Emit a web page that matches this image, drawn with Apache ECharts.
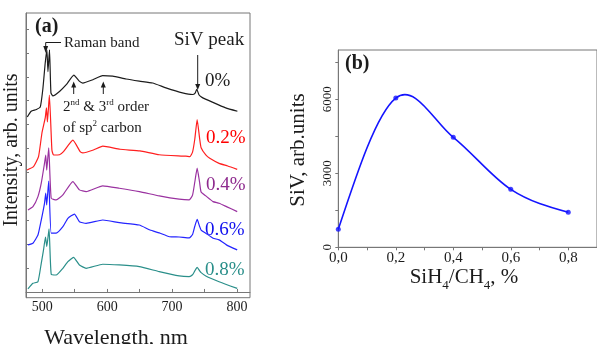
<!DOCTYPE html>
<html><head><meta charset="utf-8">
<script src="https://cdn.jsdelivr.net/npm/echarts@6/dist/echarts.min.js"></script>
<style>html,body{margin:0;padding:0;background:#fff}#c{width:597px;height:344px}</style>
</head><body><div id="c"></div>
<script>
// ---- Panel (a): Raman/PL spectra (offset intensities, arb. units) ----
const wl0 = [477,483,491,497,501,504.6,507.2,508.8,511.2,513.4,516.5,527,537,548.7,557,562.5,578,593,608.6,629,649.5,670,690.5,716,731.5,735.5,738,741.6,746,762,782.6,800.6];
const int0 = [7.32,7.56,7.63,7.74,8.5,9.58,10.13,9.22,10.13,8.33,8.2,8.40,8.67,9.07,8.82,8.74,8.88,9.05,9.03,8.91,8.82,8.74,8.54,8.33,8.26,8.32,8.48,8.24,8.14,7.94,7.70,7.56];

const wl1 = [476.5,486.6,494.3,499.5,504.6,506.5,508,511,514.9,517.4,526.6,532.7,547.2,558.4,562.5,578.8,593.2,619.8,650.5,680.2,721.2,727.3,731.5,735,738.6,742.5,744.7,751.9,758,772.4,785.7,800.3];
const int1 = [5.10,5.24,5.66,6.64,7.28,7.70,7.11,8.24,5.94,5.73,5.74,5.87,6.35,5.87,5.82,5.94,6.10,5.97,5.90,5.74,5.68,5.66,5.85,6.4,7.21,6.4,6.03,5.73,5.59,5.38,5.27,5.13];

const wl2 = [478,485.7,493.4,498.5,503.5,505.4,506.9,510,513.8,521.5,531.8,547.2,557.3,567.6,593.2,618.7,649.5,680.2,710.9,726.3,731.5,735,738.6,742.3,744.7,751.9,763.1,772.4,783.7,800.3];
const int2 = [3.43,3.57,3.99,4.55,5.38,5.73,5.10,6.03,3.92,3.85,4.06,4.62,4.27,4.20,4.44,4.34,4.20,4.02,3.88,3.85,4.05,4.6,5.18,4.6,4.18,4.02,3.78,3.71,3.57,3.36];

const wl3 = [478,485.7,493.4,498.5,503.5,505.4,506.9,510,513.8,521.5,531.8,539.5,549.7,557.3,567.6,593.2,618.7,649.5,666,680.2,696,710.9,726.3,731.5,735,738.6,742.3,744.7,751.9,763.1,772.4,783.7,800.3];
const int3 = [1.97,2.04,2.38,3.01,3.71,4.14,3.64,4.64,2.46,2.46,2.73,3.08,3.26,2.94,2.87,3.01,2.90,2.80,2.59,2.47,2.31,2.30,2.26,2.40,2.75,3.04,2.75,2.59,2.46,2.25,2.18,1.97,1.76];

const wl4 = [478,485.7,493.4,498.5,502,505,507,510.5,513.8,521.5,531.8,539.5,548.2,557.3,567.6,593.2,618.7,649.5,680.2,710.9,726.3,731.5,735,738.6,742.5,744.7,751.9,772.4,800.3];
const int4 = [0.13,0.36,0.43,1.20,1.76,2.30,1.90,2.64,0.75,0.71,0.99,1.27,1.45,1.13,0.99,1.16,1.13,1.06,0.85,0.67,0.64,0.72,0.88,1.03,0.88,0.81,0.67,0.43,0.15];

const seriesNames = ['0%','0.2%','0.4%','0.6%','0.8%'];
const wlTicks = [500,550,600,650,700,750,800];
const wlLabels = [500,600,700,800];
const intTicks = [0,1,2,3,4,5,6,7,8,9,10,11];

// ---- Panel (b): SiV intensity vs SiH4/CH4 ----
const ratio = [0, 0.2, 0.4, 0.6, 0.8];
const siv = [730, 6050, 4460, 2350, 1420];

const FONT = 'Liberation Serif';
const colors = ['#1c1c1c','#ff1f1f','#9a32a0','#2424ff','#2a8f8a'];
const labelColors = ['#1c1c1c','#ff0000','#8e2a8e','#1010ee','#2a8f8a'];

const wls = [wl0,wl1,wl2,wl3,wl4];
const ints = [int0,int1,int2,int3,int4];

const specSeries = wls.map((w,k)=>({
  type:'line', name: seriesNames[k], xAxisIndex:0, yAxisIndex:0,
  data: w.map((x,i)=>[x, ints[k][i]]),
  showSymbol:false, symbol:'none', smooth:0.15,
  lineStyle:{color:colors[k], width:1.2}, silent:true, animation:false
}));

// cubic spline tangents (natural end conditions) for the SiV curve
function splineTangents(xs, ys){
  const n = xs.length, m = new Array(n);
  for (let i=1;i<n-1;i++) m[i] = (ys[i+1]-ys[i-1])/(xs[i+1]-xs[i-1]);
  const s0 = (ys[1]-ys[0])/(xs[1]-xs[0]);
  const sn = (ys[n-1]-ys[n-2])/(xs[n-1]-xs[n-2]);
  m[0] = (3*s0 - m[1])/2;
  m[n-1] = (3*sn - m[n-2])/2;
  return m;
}
const sivTan = splineTangents(ratio, siv);

function txt(x,y,t,opt){
  return Object.assign({type:'text', x:x, y:y, silent:true,
    style:Object.assign({text:t, font:'15px "Liberation Serif"', fill:'#1c1c1c', textVerticalAlign:'middle'}, opt||{})});
}
function arrowDown(x,y1,y2){
  return [
    {type:'line', silent:true, shape:{x1:x,y1:y1,x2:x,y2:y2-5}, style:{stroke:'#1c1c1c', lineWidth:1}},
    {type:'polygon', silent:true, shape:{points:[[x-2.5,y2-6],[x+2.5,y2-6],[x,y2]]}, style:{fill:'#1c1c1c'}}
  ];
}
function arrowUp(x,y1,y2){
  return [
    {type:'line', silent:true, shape:{x1:x,y1:y1,x2:x,y2:y2+5}, style:{stroke:'#1c1c1c', lineWidth:1}},
    {type:'polygon', silent:true, shape:{points:[[x-2.5,y2+6],[x+2.5,y2+6],[x,y2]]}, style:{fill:'#1c1c1c'}}
  ];
}

const graphics = [
  txt(35,26.5,'(a)',{font:'bold 20px "Liberation Serif"'}),
  txt(64,42.7,'Raman band',{font:'15px "Liberation Serif"'}),
  {type:'polyline', silent:true, shape:{points:[[45.7,46],[45.7,42.5],[61,42.5]]}, style:{stroke:'#1c1c1c', lineWidth:1, fill:null}},
  {type:'polygon', silent:true, shape:{points:[[43.3,46],[48.1,46],[45.7,53]]}, style:{fill:'#1c1c1c'}},
  txt(174,40,'SiV peak',{font:'19px "Liberation Serif"'}),
  ...arrowDown(197.7,55,90),
  ...arrowUp(73.7,94,81.5),
  ...arrowUp(103.3,94,81.5),
  {type:'text', x:63, y:106.7, silent:true, style:{
    text:'2{sup|nd} & 3{sup|rd} order', textVerticalAlign:'middle',
    font:'15px "Liberation Serif"', fill:'#1c1c1c',
    rich:{sup:{fontSize:9, fontFamily:FONT, verticalAlign:'top', lineHeight:18, fill:'#1c1c1c'}}
  }},
  {type:'text', x:63, y:127.7, silent:true, style:{
    text:'of sp{sup|2} carbon', textVerticalAlign:'middle',
    font:'15px "Liberation Serif"', fill:'#1c1c1c',
    rich:{sup:{fontSize:9, fontFamily:FONT, verticalAlign:'top', lineHeight:18, fill:'#1c1c1c'}}
  }},
  txt(205,80.7,seriesNames[0],{font:'19px "Liberation Serif"', fill:labelColors[0]}),
  txt(206,138,seriesNames[1],{font:'19px "Liberation Serif"', fill:labelColors[1]}),
  txt(206,185,seriesNames[2],{font:'19px "Liberation Serif"', fill:labelColors[2]}),
  txt(205,230,seriesNames[3],{font:'19px "Liberation Serif"', fill:labelColors[3]}),
  txt(205,270,seriesNames[4],{font:'19px "Liberation Serif"', fill:labelColors[4]}),
  {type:'text', x:12, y:150, rotation:Math.PI/2, silent:true, style:{text:'Intensity, arb. units', font:'20px "Liberation Serif"', fill:'#1c1c1c', textAlign:'center', textVerticalAlign:'middle'}},
  {type:'text', x:116, y:338, silent:true, style:{text:'Wavelength, nm', font:'22px "Liberation Serif"', fill:'#1c1c1c', textAlign:'center', textVerticalAlign:'middle'}},
  // panel b
  txt(345,63.5,'(b)',{font:'bold 20px "Liberation Serif"'}),
  {type:'text', x:298, y:150, rotation:Math.PI/2, silent:true, style:{text:'SiV, arb.units', font:'21px "Liberation Serif"', fill:'#1c1c1c', textAlign:'center', textVerticalAlign:'middle'}},
  {type:'text', x:464, y:277, silent:true, style:{
    text:'SiH{sub|4}/CH{sub|4}, %', font:'21px "Liberation Serif"', fill:'#1c1c1c', textAlign:'center', textVerticalAlign:'middle',
    rich:{sub:{fontSize:13, fontFamily:FONT, verticalAlign:'bottom', lineHeight:30, fill:'#1c1c1c'}}
  }}
];

const axisCol = '#777';
const chart = echarts.init(document.getElementById('c'), null, {renderer:'canvas'});
chart.setOption({
  animation:false,
  backgroundColor:'#fff',
  grid:[
    {left:26, top:13, width:224, height:284.7, show:true, borderColor:axisCol, borderWidth:1, backgroundColor:'transparent'},
    {left:338.3, top:50, width:267, height:197.3, show:true, borderColor:axisCol, borderWidth:1, backgroundColor:'transparent'}
  ],
  xAxis:[
    {type:'value', gridIndex:0, min:475, max:820,
     axisLine:{show:true, lineStyle:{color:axisCol}},
     axisTick:{show:true, inside:true, length:3, customValues:wlTicks, lineStyle:{color:axisCol}},
     axisLabel:{customValues:wlLabels, fontFamily:FONT, fontSize:14, color:'#1c1c1c', margin:3},
     splitLine:{show:false}},
    {type:'value', gridIndex:1, min:0, max:0.9, interval:0.1,
     axisLine:{show:true, lineStyle:{color:axisCol}},
     axisTick:{show:true, inside:false, length:3, lineStyle:{color:axisCol}},
     axisLabel:{fontFamily:FONT, fontSize:15, color:'#1c1c1c', margin:3, showMaxLabel:false,
       formatter:v=>{const k=Math.round(v*10); return (k%2===0 && k<=8)? (k/10).toFixed(1).replace('.',','):'';}},
     splitLine:{show:false}}
  ],
  yAxis:[
    {type:'value', gridIndex:0, min:-0.24, max:11.67,
     axisLine:{show:true, lineStyle:{color:axisCol}},
     axisTick:{show:true, inside:true, length:3, customValues:intTicks, lineStyle:{color:axisCol}},
     axisLabel:{show:false}, splitLine:{show:false}},
    {type:'value', gridIndex:1, min:0, max:8000, interval:1500,
     axisLine:{show:true, lineStyle:{color:axisCol}},
     axisTick:{show:true, inside:false, length:3, lineStyle:{color:axisCol}},
     axisLabel:{fontFamily:FONT, fontSize:13, color:'#1c1c1c', rotate:90, margin:4, showMaxLabel:false,
       formatter:v=> (v%3000===0 ? String(v) : '')},
     splitLine:{show:false}}
  ],
  series:[
    ...specSeries,
    {type:'custom', name:'SiV curve', xAxisIndex:1, yAxisIndex:1, silent:true,
     data: ratio.slice(0, ratio.length-1).map((r,i)=>[r, siv[i]]),
     renderItem:(params, api)=>{
       const i = params.dataIndex;
       const x0 = ratio[i], x1 = ratio[i+1], y0 = siv[i], y1 = siv[i+1];
       const h = x1 - x0;
       const p0 = api.coord([x0, y0]);
       const p1 = api.coord([x1, y1]);
       const c1 = api.coord([x0 + h/3, y0 + sivTan[i]*h/3]);
       const c2 = api.coord([x1 - h/3, y1 - sivTan[i+1]*h/3]);
       return {type:'bezierCurve',
         shape:{x1:p0[0], y1:p0[1], x2:p1[0], y2:p1[1], cpx1:c1[0], cpy1:c1[1], cpx2:c2[0], cpy2:c2[1]},
         style:{stroke:'#1414ff', lineWidth:1.6, fill:null}};
     }},
    {type:'scatter', name:'SiV', xAxisIndex:1, yAxisIndex:1,
     data: ratio.map((r,i)=>[r, siv[i]]),
     symbol:'circle', symbolSize:5, itemStyle:{color:'#1414ff'}, silent:true}
  ],
  graphic: graphics
});
</script></body></html>
